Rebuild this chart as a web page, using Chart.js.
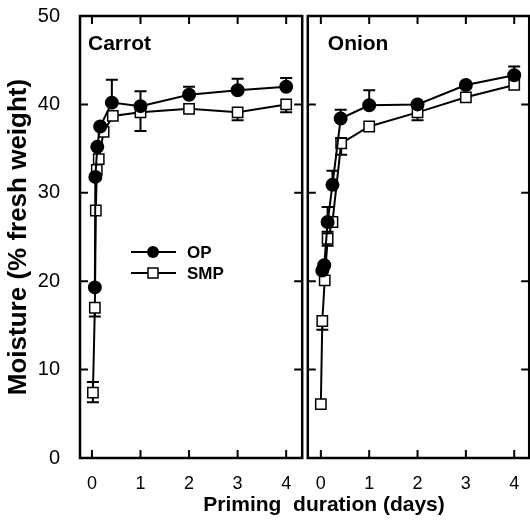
<!DOCTYPE html>
<html>
<head>
<meta charset="utf-8">
<script src="https://cdn.jsdelivr.net/npm/chart.js@4.4.0/dist/chart.umd.min.js"></script>
<style>
    body { margin: 0; background: #fff; overflow: hidden; }
    #wrap { position: relative; width: 530px; height: 522px; overflow: hidden; }
    #left { position: absolute; left: 0; top: 0; }
    #right { position: absolute; left: 299px; top: 0; }
    #xtitle {
        position: absolute; left: 124px; width: 400px; top: 492px;
        text-align: center; white-space: pre; color: #000;
        font: bold 21px "Liberation Sans", Arial, sans-serif;
    }
</style>
</head>
<body>
<div id="wrap">
    <canvas id="left" width="311" height="522"></canvas>
    <canvas id="right" width="239" height="522"></canvas>
    <div id="xtitle">Priming  duration (days)</div>
</div>
<script>
const yTicks = [0, 10, 20, 30, 40, 50];
const xTicks = [0, 1, 2, 3, 4];

// Carrot
const carrotOpX = [0.06, 0.07, 0.11, 0.17, 0.41, 1, 2, 3, 4];
const carrotOpY = [19.3, 31.8, 35.2, 37.5, 40.2, 39.8, 41.1, 41.6, 42.0];
const carrotOpErrHi = [0, 0, 0, 0, 2.6, 1.7, 0.9, 1.3, 1.0];
const carrotOpErrLo = [0, 0, 0, 0, 0, 0, 0, 0, 0];
const carrotSmpX = [0.02, 0.06, 0.08, 0.1, 0.14, 0.24, 0.43, 1, 2, 3, 4];
const carrotSmpY = [7.4, 17.0, 28.0, 32.6, 33.8, 36.9, 38.7, 39.1, 39.5, 39.1, 40.0];
const carrotSmpErrHi = [1.2, 0, 0, 0, 0, 0, 0, 0, 0, 0, 0];
const carrotSmpErrLo = [1.1, 1.0, 0, 0, 0, 0, 0, 2.1, 0, 0.9, 0.9];

// Onion
const onionOpX = [0.03, 0.07, 0.14, 0.24, 0.41, 1, 2, 3, 4];
const onionOpY = [21.2, 21.8, 26.7, 30.9, 38.4, 39.9, 40.0, 42.2, 43.3];
const onionOpErrHi = [0, 0, 1.7, 1.6, 1.0, 1.7, 0, 0, 1.0];
const onionOpErrLo = [0, 0, 0, 0, 0, 0, 0, 0, 0];
const onionSmpX = [0, 0.03, 0.08, 0.14, 0.24, 0.42, 1, 2, 3, 4];
const onionSmpY = [6.1, 15.5, 20.1, 24.8, 26.7, 35.6, 37.5, 39.1, 40.8, 42.2];
const onionSmpErrHi = [0, 0, 0, 0.8, 0, 0.6, 0, 0, 0, 0];
const onionSmpErrLo = [0, 1.0, 0, 0.8, 0, 1.3, 0, 0.9, 0, 0];

Chart.defaults.font.family = '"Liberation Sans", Arial, sans-serif';
Chart.defaults.color = '#000';

function toPoints(xs, ys) {
    return xs.map((x, i) => ({ x: x, y: ys[i] }));
}

// error bars, drawn under the markers
const errorBars = {
    id: 'errorBars',
    beforeDatasetsDraw(chart) {
        const ctx = chart.ctx, sx = chart.scales.x, sy = chart.scales.y;
        ctx.save();
        ctx.strokeStyle = '#000';
        ctx.lineWidth = 2;
        chart.data.datasets.forEach(ds => {
            ds.data.forEach((p, i) => {
                const hi = ds.errHi[i], lo = ds.errLo[i];
                if (!hi && !lo) return;
                const px = sx.getPixelForValue(p.x);
                const y0 = sy.getPixelForValue(p.y + hi);
                const y1 = sy.getPixelForValue(p.y - lo);
                ctx.beginPath();
                ctx.moveTo(px, y0); ctx.lineTo(px, y1);
                if (hi) { ctx.moveTo(px - 6, y0); ctx.lineTo(px + 6, y0); }
                if (lo) { ctx.moveTo(px - 6, y1); ctx.lineTo(px + 6, y1); }
                ctx.stroke();
            });
        });
        ctx.restore();
    }
};

// box round the panel with inward ticks on all sides
const frame = {
    id: 'frame',
    afterDraw(chart) {
        const ctx = chart.ctx, a = chart.chartArea;
        const sx = chart.scales.x, sy = chart.scales.y;
        const opts = chart.options.plugins.frame;
        ctx.save();
        ctx.strokeStyle = '#000';
        ctx.lineWidth = 2.5;
        ctx.strokeRect(a.left, a.top, a.right - a.left, a.bottom - a.top);
        ctx.lineWidth = 2;
        ctx.beginPath();
        xTicks.forEach(v => {
            const px = sx.getPixelForValue(v);
            ctx.moveTo(px, a.bottom); ctx.lineTo(px, a.bottom - 8);
            ctx.moveTo(px, a.top); ctx.lineTo(px, a.top + 8);
        });
        yTicks.slice(1, -1).forEach(v => {
            const py = sy.getPixelForValue(v);
            ctx.moveTo(a.left, py); ctx.lineTo(a.left + 8, py);
            ctx.moveTo(a.right, py); ctx.lineTo(a.right - 8, py);
        });
        ctx.stroke();

        ctx.font = 'bold 21px "Liberation Sans", Arial, sans-serif';
        ctx.fillStyle = '#000';
        ctx.textBaseline = 'alphabetic';
        ctx.fillText(opts.label, a.left + opts.labelX, a.top + 34);

        if (opts.legend) {
            const items = [['OP', 'circle', 252], ['SMP', 'rect', 273]];
            items.forEach(it => {
                const y = it[2];
                ctx.lineWidth = 2;
                ctx.beginPath();
                ctx.moveTo(131, y); ctx.lineTo(176, y);
                ctx.stroke();
                if (it[1] === 'circle') {
                    ctx.beginPath();
                    ctx.arc(153, y, 6, 0, Math.PI * 2);
                    ctx.fill();
                } else {
                    ctx.fillStyle = '#fff';
                    ctx.fillRect(148, y - 5, 10, 10);
                    ctx.lineWidth = 1.5;
                    ctx.strokeRect(148, y - 5, 10, 10);
                    ctx.fillStyle = '#000';
                }
                ctx.font = 'bold 17px "Liberation Sans", Arial, sans-serif';
                ctx.textBaseline = 'middle';
                ctx.fillText(it[0], 187, y + 1);
            });
        }
        ctx.restore();
    }
};

function drawPanel(id, label, labelX, op, smp, xMin, xMax, showY, padding, legend) {
    const canvas = document.getElementById(id);
    new Chart(canvas.getContext('2d'), {
        type: 'line',
        data: {
            datasets: [
                {
                    label: 'OP',
                    data: toPoints(op.x, op.y),
                    errHi: op.hi, errLo: op.lo,
                    borderColor: '#000', borderWidth: 2,
                    pointStyle: 'circle', pointRadius: 6,
                    pointBackgroundColor: '#000', pointBorderColor: '#000',
                    tension: 0,
                },
                {
                    label: 'SMP',
                    data: toPoints(smp.x, smp.y),
                    errHi: smp.hi, errLo: smp.lo,
                    borderColor: '#000', borderWidth: 2,
                    pointStyle: 'rect', pointRadius: 7.3, pointBorderWidth: 1.5,
                    pointBackgroundColor: '#fff', pointBorderColor: '#000',
                    tension: 0,
                },
            ],
        },
        options: {
            responsive: false,
            animation: false,
            layout: { padding: padding },
            scales: {
                x: {
                    type: 'linear',
                    min: xMin, max: xMax,
                    grid: { display: false },
                    border: { display: false },
                    afterBuildTicks: s => { s.ticks = xTicks.map(v => ({ value: v })); },
                    afterFit: s => { s.height = 64; },
                    ticks: { font: { size: 18 }, padding: 7, maxRotation: 0 },
                },
                y: {
                    display: showY,
                    min: 0, max: 50,
                    grid: { display: false },
                    border: { display: false },
                    afterBuildTicks: s => { s.ticks = yTicks.map(v => ({ value: v })); },
                    afterFit: s => { s.width = showY ? 80 : 0; s.paddingTop = 0; s.paddingBottom = 0; },
                    ticks: { font: { size: 20 }, padding: 12 },
                    title: {
                        display: true,
                        text: 'Moisture (% fresh weight)',
                        font: { size: 26, weight: 'bold' },
                        padding: { top: 3, bottom: 0 },
                    },
                },
            },
            plugins: {
                legend: { display: false },
                tooltip: { enabled: false },
                frame: { label: label, labelX: labelX, legend: legend },
            },
        },
        plugins: [errorBars, frame],
    });
}

drawPanel('left', 'Carrot', 8,
    { x: carrotOpX, y: carrotOpY, hi: carrotOpErrHi, lo: carrotOpErrLo },
    { x: carrotSmpX, y: carrotSmpY, hi: carrotSmpErrHi, lo: carrotSmpErrLo },
    -0.246, 4.33, true, { left: 0, right: 4, top: 16, bottom: 0 }, true);

drawPanel('right', 'Onion', 20,
    { x: onionOpX, y: onionOpY, hi: onionOpErrHi, lo: onionOpErrLo },
    { x: onionSmpX, y: onionSmpY, hi: onionSmpErrHi, lo: onionSmpErrLo },
    -0.27, 4.31, false, { left: 2, right: 1, top: 16, bottom: 0 }, false);
</script>
</body>
</html>
